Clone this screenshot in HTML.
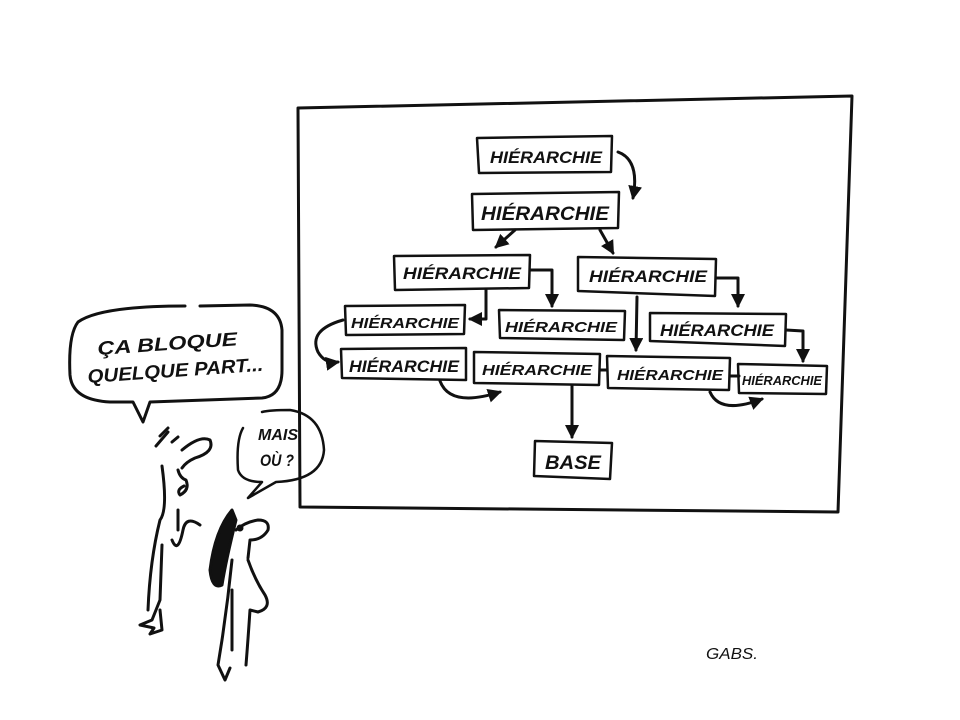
<!DOCTYPE html>
<html><head><meta charset="utf-8"><style>
html,body{margin:0;padding:0;background:#fff;}
svg{display:block}
text{font-family:"Liberation Sans",sans-serif;fill:#111;}
</style></head><body>
<svg width="960" height="720" viewBox="0 0 960 720" xmlns="http://www.w3.org/2000/svg">
<defs>
<marker id="a" markerWidth="8" markerHeight="8" refX="5" refY="4" orient="auto" markerUnits="userSpaceOnUse">
<path d="M0,0 L8,4 L0,8 z" fill="#111"/></marker>
<marker id="b" markerWidth="16" markerHeight="14" refX="12" refY="7" orient="auto" markerUnits="userSpaceOnUse">
<path d="M0,0 L14,7 L0,14 z" fill="#111"/></marker>
</defs>
<g fill="none" stroke="#111" stroke-linecap="round" stroke-linejoin="round">
<!-- board -->
<path d="M298,108 L852,96 L838,512 L300,507 Z" stroke-width="3"/>
<!-- boxes -->
<g stroke-width="2.5">
<path d="M477,138 L612,136 L611,172 L479,173 Z"/>
<path d="M472,194 L619,192 L618,228 L473,230 Z"/>
<path d="M394,256 L530,255 L529,288 L395,290 Z"/>
<path d="M578,257 L716,259 L715,296 L578,291 Z"/>
<path d="M345,306 L465,305 L464,334 L346,335 Z"/>
<path d="M499,310 L625,311 L624,340 L500,338 Z"/>
<path d="M650,313 L786,314 L785,346 L650,341 Z"/>
<path d="M341,349 L466,348 L466,380 L342,378 Z"/>
<path d="M474,352 L600,354 L599,385 L474,383 Z"/>
<path d="M607,356 L730,358 L729,390 L608,388 Z"/>
<path d="M738,364 L827,366 L826,394 L739,393 Z"/>
<path d="M535,441 L612,443 L610,479 L534,476 Z"/>
</g>
<!-- arrows -->
<g stroke-width="3" marker-end="url(#b)">
<path d="M618,152 Q640,160 633,198"/>
<path d="M515,230 L496,247"/>
<path d="M600,230 L613,253"/>
<path d="M530,270 L552,270 L552,306"/>
<path d="M486,290 L486,319 L470,319"/>
<path d="M716,278 L738,278 L738,306"/>
<path d="M637,297 L636,350"/>
<path d="M343,320 Q308,330 318,352 Q325,364 338,362"/>
<path d="M786,330 L803,331 L803,361"/>
<path d="M440,381 Q450,408 500,392"/>
<path d="M572,385 L572,437"/>
<path d="M710,392 Q720,415 762,399"/>
</g>
<path d="M600,370 L607,370" stroke-width="3"/>
<path d="M730,376 L739,376" stroke-width="3"/>
<!-- speech bubble 1 -->
<path d="M185,306 Q100,306 78,322 Q68,335 70,375 Q72,400 110,402 L133,402 L143,422 L150,402 L262,398 Q282,396 282,370 L282,330 Q280,306 250,305 L200,306" stroke-width="3"/>
<!-- speech bubble 2 -->
<path d="M243,428 Q236,440 238,470 Q242,482 262,482 L248,498 L276,482 Q322,480 324,450 Q322,415 290,410 Q270,410 262,412" stroke-width="2.5"/>
<!-- man -->
<g stroke-width="3">
<path d="M160,436 L168,428"/><path d="M156,446 L168,432"/>
<path d="M172,442 L178,437"/>
<path d="M182,450 Q200,435 210,440 Q215,452 195,458 Q186,462 182,468"/>
<path d="M178,470 Q180,478 186,480 Q190,490 180,495 Q176,490 184,486"/>
<path d="M162,466 Q168,510 160,520 Q150,560 148,610"/>
<path d="M178,510 L178,530"/><path d="M172,540 Q178,555 183,530 Q186,515 200,525"/>
<path d="M162,545 L160,600 L152,620 L140,625 L154,628 L150,634 L162,630 L160,610"/>
</g>
<!-- woman -->
<g stroke-width="3">
<path d="M232,510 Q215,530 210,570 Q212,590 222,585 Q226,560 236,520 Z" fill="#111"/>
<path d="M236,530 Q245,522 258,520 Q270,520 268,530 Q262,540 250,540 L248,558"/>
<circle cx="240" cy="528" r="3.5" fill="#111" stroke="none"/>
<path d="M232,560 Q228,600 222,640 L218,665 L225,680 L230,668"/>
<path d="M248,560 Q255,580 265,595 Q272,608 258,612 L250,610 Q248,640 246,665"/>
<path d="M232,590 L232,650"/>
</g>
</g>
<!-- labels -->
<g font-size="17" font-weight="bold" font-style="italic">
<text x="490" y="163" textLength="112" lengthAdjust="spacingAndGlyphs">HIÉRARCHIE</text>
<text x="481" y="220" font-size="19" textLength="128" lengthAdjust="spacingAndGlyphs">HIÉRARCHIE</text>
<text x="403" y="279" textLength="118" lengthAdjust="spacingAndGlyphs">HIÉRARCHIE</text>
<text x="589" y="282" textLength="118" lengthAdjust="spacingAndGlyphs">HIÉRARCHIE</text>
<text x="351" y="328" font-size="15" textLength="108" lengthAdjust="spacingAndGlyphs">HIÉRARCHIE</text>
<text x="505" y="332" font-size="15" textLength="112" lengthAdjust="spacingAndGlyphs">HIÉRARCHIE</text>
<text x="660" y="336" textLength="114" lengthAdjust="spacingAndGlyphs">HIÉRARCHIE</text>
<text x="349" y="372" textLength="110" lengthAdjust="spacingAndGlyphs">HIÉRARCHIE</text>
<text x="482" y="375" font-size="15" textLength="110" lengthAdjust="spacingAndGlyphs">HIÉRARCHIE</text>
<text x="617" y="380" font-size="15" textLength="106" lengthAdjust="spacingAndGlyphs">HIÉRARCHIE</text>
<text x="742" y="385" font-size="13" textLength="80" lengthAdjust="spacingAndGlyphs">HIÉRARCHIE</text>
<text x="545" y="469" font-size="19" textLength="56" lengthAdjust="spacingAndGlyphs">BASE</text>
<text x="98" y="355" font-size="19" textLength="140" lengthAdjust="spacingAndGlyphs" transform="rotate(-4 98 355)">ÇA BLOQUE</text>
<text x="88" y="383" font-size="19" textLength="176" lengthAdjust="spacingAndGlyphs" transform="rotate(-4 88 383)">QUELQUE PART...</text>
<text x="258" y="440" font-size="16" textLength="40" lengthAdjust="spacingAndGlyphs">MAIS</text>
<text x="260" y="466" font-size="17" textLength="34" lengthAdjust="spacingAndGlyphs">OÙ ?</text>
</g>
<text x="706" y="659" font-size="16" font-style="italic" textLength="52" lengthAdjust="spacingAndGlyphs">GABS.</text>
</svg>
</body></html>
